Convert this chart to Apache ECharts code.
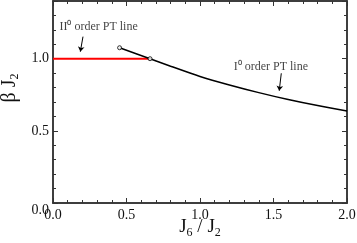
<!DOCTYPE html>
<html><head><meta charset="utf-8">
<script src="https://cdn.jsdelivr.net/npm/echarts@6/dist/echarts.min.js"></script>
<style>html,body{margin:0;padding:0;background:#fff}#c{width:357px;height:243px}</style>
</head><body><div id="c"></div>
<script>
const secondOrderX = [0.0, 0.66];
const secondOrderY = [1.0, 1.0];
const firstOrderX = [0.453, 0.66, 0.8, 1.0, 1.2, 1.4, 1.6, 1.8, 2.0];
const firstOrderY = [1.076, 1.0, 0.948, 0.877, 0.818, 0.765, 0.717, 0.675, 0.638];
const markerX = [0.453, 0.66];
const markerY = [1.076, 1.0];
const xTickValues = [0.0, 0.5, 1.0, 1.5, 2.0];
const yTickValues = [0.0, 0.5, 1.0];
const annotationText = ['II\u2070 order PT line', 'I\u2070 order PT line'];
const annotationX = [0.01, 1.195];
const annotationY = [1.224, 0.946];
const arrowFrom = [[0.204, 1.153], [1.553, 0.899]];
const arrowTo = [[0.186, 1.049], [1.539, 0.778]];

const zip = (a, b) => a.map((v, i) => [v, b[i]]);
const FONT = 'Liberation Serif';
const AX = '#333';
const baseLine = {show: true, onZero: false, lineStyle: {color: AX, width: 1.5}};

function xAxisDef(pos, major, labels) {
  return {
    type: 'value', position: pos, min: 0, max: 2, interval: major ? 0.5 : 0.1,
    axisLine: baseLine,
    axisTick: {show: true, inside: true, length: major ? 5 : 3, lineStyle: {color: AX, width: 1}},
    axisLabel: {show: labels, margin: 5, fontFamily: FONT, fontSize: 14, color: '#111',
      formatter: v => xTickValues.some(t => Math.abs(t - v) < 1e-9) ? v.toFixed(1) : ''},
    splitLine: {show: false},
    name: labels ? 'J{s|6} / J{s|2}' : '', nameLocation: 'middle', nameGap: 12, nameMoveOverlap: false,
    nameTextStyle: {fontFamily: FONT, fontSize: 19, color: '#111',
      rich: {s: {fontFamily: FONT, fontSize: 12, color: '#111', padding: [12, 0, 0, 0]}}}
  };
}
function yAxisDef(pos, major, labels) {
  return {
    type: 'value', position: pos, min: 0, max: 1.4, interval: major ? 0.5 : 0.1,
    axisLine: baseLine,
    axisTick: {show: true, inside: true, length: major ? 5 : 3, lineStyle: {color: AX, width: 1}},
    axisLabel: {show: labels, margin: 4, fontFamily: FONT, fontSize: 14, color: '#111',
      formatter: v => {
        if (!yTickValues.some(t => Math.abs(t - v) < 1e-9)) return '';
        return v === 0 ? '{lo|0.0}' : v.toFixed(1);
      },
      rich: {lo: {fontFamily: FONT, fontSize: 14, color: '#111', padding: [14, 0, 0, 0]}}},
    splitLine: {show: false},
    name: labels ? '\u03b2 J{s|2}' : '', nameLocation: 'middle', nameGap: 32, nameRotate: 90, nameMoveOverlap: false,
    nameTextStyle: {fontFamily: FONT, fontSize: 20, color: '#111', padding: [0, 0, 0, 28],
      rich: {s: {fontFamily: FONT, fontSize: 12, color: '#111', padding: [10, 0, 0, 0]}}}
  };
}

const chart = echarts.init(document.getElementById('c'), null, {renderer: 'canvas'});
chart.setOption({
  animation: false,
  grid: {left: 53, right: 10, top: 1, bottom: 40, containLabel: false, outerBoundsMode: 'none'},
  xAxis: [xAxisDef('bottom', true, true), xAxisDef('bottom', false, false),
          xAxisDef('top', true, false), xAxisDef('top', false, false)],
  yAxis: [yAxisDef('left', true, true), yAxisDef('left', false, false),
          yAxisDef('right', true, false), yAxisDef('right', false, false)],
  series: [
    {type: 'line', data: zip(secondOrderX, secondOrderY), showSymbol: false,
     lineStyle: {color: '#ff0000', width: 2}, z: 3},
    {type: 'line', data: zip(firstOrderX, firstOrderY), showSymbol: false, smooth: 0.3,
     lineStyle: {color: '#000', width: 1.5}, z: 4},
    {type: 'scatter', data: zip(markerX, markerY), symbol: 'circle', symbolSize: 4,
     itemStyle: {color: '#fff', borderColor: '#000', borderWidth: 1}, z: 5},
    {type: 'scatter', data: annotationX.map((x, i) => ({value: [x, annotationY[i]], name: annotationText[i]})),
     symbolSize: 0, silent: true,
     label: {show: true, position: 'insideLeft', formatter: p => p.name, fontFamily: FONT, fontSize: 12, color: '#111'}},
    {type: 'lines', coordinateSystem: 'cartesian2d', silent: true,
     data: arrowFrom.map((f, i) => ({coords: [f, arrowTo[i]]})),
     symbol: ['none', 'arrow'], symbolSize: [0, 5],
     lineStyle: {color: '#000', width: 1, opacity: 1}}
  ]
});
</script></body></html>
